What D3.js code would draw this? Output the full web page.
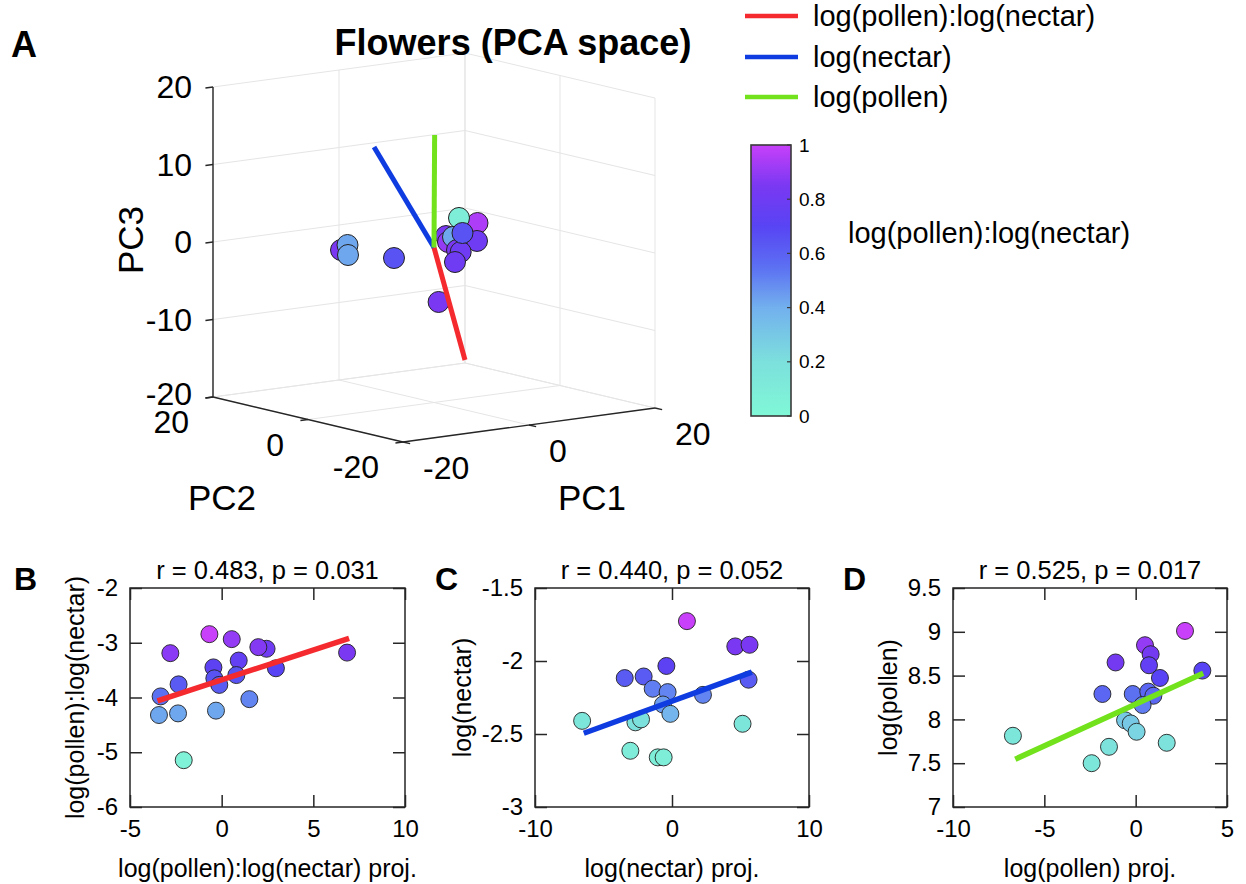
<!DOCTYPE html>
<html><head><meta charset="utf-8">
<script src="https://cdn.jsdelivr.net/npm/d3@7"></script>
<style>
body{margin:0;background:#fff}
text{font-family:"Liberation Sans",Arial,Helvetica,sans-serif;fill:#000}
</style>
</head><body><script>
// ---------- DATA ----------
// colormap (value 0..1 -> colour)
const cmapStops  = [0, 0.2, 0.4, 0.55, 0.7, 0.85, 1];
const cmapColors = ["#80f8d6", "#7ce0dc", "#72b0ee", "#5c70f2", "#5844f4", "#7a38f2", "#c840fa"];
const cbarTicks = [0, 0.2, 0.4, 0.6, 0.8, 1];

// Panel A: PCA scores (PC1, PC2, PC3) and colour value, in drawing order
const pcaTicks = [-20, 0, 20];
const pc3Ticks = [-20, -10, 0, 10, 20];
const scoreP1 = [-5.71, -6.19, -6.11, -2.58, -3.04, 6.15, 2.46, 1.9, 5.32, -0.04, 0, 1.39, 1.22, 0, -0.44];
const scoreP2 = [12, 10, 10, 5, -5, -1, -2, 0, -2, -3, -4, -3, -4, -6, -5];
const scoreP3 = [-1.44, -0.45, -1.75, -1.8, -5.97, 2.63, 3.83, 1.27, 0.55, 1.15, 1.94, -0.04, -0.13, 2.74, -1.1];
const scoreC  = [0.85, 0.42, 0.42, 0.65, 0.85, 0.95, 0.08, 0.85, 0.8, 0.9, 0.42, 0.85, 0.8, 0.65, 0.8];
// loading vectors
const loadNames  = ["log(pollen):log(nectar)", "log(nectar)", "log(pollen)"];
const loadColors = ["#f42a2f", "#0f3ce0", "#72e21c"];
const loadP1 = [8.69, -5.75, 0.1];
const loadP2 = [5, 5, 0];
const loadP3 = [-16.2, 12.87, 14.5];

// Panel B
const bX = [-0.67, 0.55, -2.8, 2.45, 2.0, 6.84, 0.93, -0.45, 2.96, -0.4, -0.13, 0.8, -2.35, -3.33, 1.51, -3.42, -2.38, -0.31, -2.07];
const bY = [-2.843, -2.934, -3.19, -3.11, -3.08, -3.18, -3.325, -3.45, -3.466, -3.65, -3.77, -3.59, -3.76, -3.98, -4.03, -4.32, -4.29, -4.24, -5.145];
const bC = [1.0, 0.9, 0.88, 0.8, 0.87, 0.85, 0.75, 0.72, 0.7, 0.65, 0.62, 0.65, 0.62, 0.55, 0.5, 0.42, 0.42, 0.42, 0.05];
const bFitX = [-3.5, 6.95];
const bFitY = [-4.06, -2.92];
// Panel C
const cX = [1.09, 4.62, 5.66, -0.41, -3.45, -2.07, 5.59, -1.41, -0.32, 2.26, -0.66, -0.12, -6.56, -2.67, -2.26, 5.15, -3.04, -1.04, -0.61];
const cY = [-1.727, -1.90, -1.889, -2.034, -2.117, -2.106, -2.128, -2.19, -2.213, -2.232, -2.298, -2.362, -2.41, -2.42, -2.40, -2.43, -2.615, -2.66, -2.66];
const cC = [1.0, 0.85, 0.85, 0.72, 0.62, 0.62, 0.62, 0.52, 0.5, 0.5, 0.45, 0.38, 0.15, 0.2, 0.2, 0.15, 0.1, 0.08, 0.08];
const cFitX = [-6.44, 5.83];
const cFitY = [-2.495, -2.076];
// Panel D
const dX = [2.70, 0.51, 0.82, -1.1, 0.73, 1.33, 3.65, -1.82, -0.16, 0.69, 0.97, 0.38, -0.58, -0.27, 0.05, -6.72, -1.46, 1.7, -2.41];
const dY = [9.01, 8.847, 8.744, 8.65, 8.618, 8.473, 8.557, 8.29, 8.29, 8.317, 8.27, 8.164, 7.99, 7.954, 7.859, 7.813, 7.687, 7.733, 7.5];
const dC = [1.0, 0.9, 0.82, 0.82, 0.75, 0.7, 0.7, 0.58, 0.55, 0.58, 0.58, 0.52, 0.3, 0.3, 0.25, 0.15, 0.18, 0.18, 0.15];
const dFitX = [-6.59, 3.70];
const dFitY = [7.546, 8.526];

const bTitle = "r = 0.483, p = 0.031";
const cTitle = "r = 0.440, p = 0.052";
const dTitle = "r = 0.525, p = 0.017";

// ---------- SETUP ----------
const W = 1246, H = 884;
const svg = d3.select("body").append("svg").attr("width", W).attr("height", H);
const color = d3.scaleLinear().domain(cmapStops).range(cmapColors).interpolate(d3.interpolateRgb).clamp(true);
const AXC = "#262626";

// ---------- PANEL A (3D) ----------
const F = [403, 442], R = [655, 408], L = [213, 397], ZT = [213, 87];
const s1 = d3.scaleLinear().domain([-20, 20]).range([0, 1]);
const s2 = d3.scaleLinear().domain([-20, 20]).range([0, 1]);
const s3 = d3.scaleLinear().domain([-20, 20]).range([0, 1]);
function proj(p1, p2, p3) {
  const t1 = s1(p1), t2 = s2(p2), t3 = s3(p3);
  return [F[0] + t1 * (R[0] - F[0]) + t2 * (L[0] - F[0]) + t3 * (ZT[0] - L[0]),
          F[1] + t1 * (R[1] - F[1]) + t2 * (L[1] - F[1]) + t3 * (ZT[1] - L[1])];
}
const gA = svg.append("g");
function seg(g, a, b, stroke, w) {
  g.append("line").attr("x1", a[0]).attr("y1", a[1]).attr("x2", b[0]).attr("y2", b[1])
    .attr("stroke", stroke).attr("stroke-width", w).attr("stroke-linecap", "butt");
}
const GRID = "#e5e5e5";
// floor grid (PC3=-20)
pcaTicks.forEach(v => {
  seg(gA, proj(v, -20, -20), proj(v, 20, -20), GRID, 1);
  seg(gA, proj(-20, v, -20), proj(20, v, -20), GRID, 1);
});
// back wall PC2=+20
pcaTicks.forEach(v => seg(gA, proj(v, 20, -20), proj(v, 20, 20), GRID, 1));
pc3Ticks.forEach(v => seg(gA, proj(-20, 20, v), proj(20, 20, v), GRID, 1));
// back wall PC1=+20
pcaTicks.forEach(v => seg(gA, proj(20, v, -20), proj(20, v, 20), GRID, 1));
pc3Ticks.forEach(v => seg(gA, proj(20, -20, v), proj(20, 20, v), GRID, 1));
// axes lines
seg(gA, proj(-20, 20, -20), proj(-20, 20, 20), AXC, 1.4);
seg(gA, proj(-20, 20, -20), proj(-20, -20, -20), AXC, 1.4);
seg(gA, proj(-20, -20, -20), proj(20, -20, -20), AXC, 1.4);
// ticks
pc3Ticks.forEach(v => seg(gA, proj(-20, 20, v), proj(-21.2, 20, v), AXC, 1.4));
pcaTicks.forEach(v => seg(gA, proj(-20, v, -20), proj(-21.2, v, -20), AXC, 1.4));
pcaTicks.forEach(v => seg(gA, proj(v, -20, -20), proj(v, -21.5, -20), AXC, 1.4));
// tick labels
const fA = 32;
pc3Ticks.forEach(v => {
  const p = proj(-20, 20, v);
  gA.append("text").attr("x", p[0] - 21).attr("y", p[1] - (v === -20 ? 3 : 0)).attr("text-anchor", "end")
    .attr("dominant-baseline", "central").style("font-size", fA + "px").text(String(v));
});
pcaTicks.forEach(v => {
  const p = proj(-20, v, -20);
  gA.append("text").attr("x", p[0] - 24).attr("y", p[1] + 25).attr("text-anchor", "end")
    .attr("dominant-baseline", "central").style("font-size", fA + "px").text(String(v));
});
pcaTicks.forEach(v => {
  const p = proj(v, -20, -20);
  gA.append("text").attr("x", p[0] + 20).attr("y", p[1] + 26).attr("text-anchor", "start")
    .attr("dominant-baseline", "central").style("font-size", fA + "px").text(String(v));
});
gA.append("text").attr("x", 222).attr("y", 497).attr("text-anchor", "middle")
  .attr("dominant-baseline", "central").style("font-size", "35px").text("PC2");
gA.append("text").attr("x", 592).attr("y", 497).attr("text-anchor", "middle")
  .attr("dominant-baseline", "central").style("font-size", "35px").text("PC1");
gA.append("text").attr("transform", "translate(130,240) rotate(-90)").attr("text-anchor", "middle")
  .attr("dominant-baseline", "central").style("font-size", "35px").text("PC3");
// points
scoreP1.forEach((p1, i) => {
  const p = proj(p1, scoreP2[i], scoreP3[i]);
  gA.append("circle").attr("cx", p[0]).attr("cy", p[1]).attr("r", 10.5)
    .attr("fill", color(scoreC[i])).attr("stroke", "#222").attr("stroke-width", 1);
});
// loading vectors
loadP1.forEach((p1, i) => {
  const o = proj(0, 0, 0), e = proj(p1, loadP2[i], loadP3[i]);
  seg(gA, o, e, loadColors[i], 5);
});
// title, panel letter
svg.append("text").attr("x", 513).attr("y", 55).attr("text-anchor", "middle")
  .style("font-size", "36px").style("font-weight", "bold").text("Flowers (PCA space)");
svg.append("text").attr("x", 11).attr("y", 57).style("font-size", "36px").style("font-weight", "bold").text("A");
// legend
const legY = [16, 57, 97];
loadNames.forEach((n, i) => {
  seg(svg, [745, legY[i]], [798, legY[i]], loadColors[i], 4.5);
  svg.append("text").attr("x", 813).attr("y", legY[i]).attr("dominant-baseline", "central")
    .style("font-size", "29px").text(n);
});
// colorbar
const cbX0 = 751, cbX1 = 791;
const cbY = d3.scaleLinear().domain([0, 1]).range([416, 145]);
const defs = svg.append("defs");
const grad = defs.append("linearGradient").attr("id", "cbg").attr("x1", 0).attr("y1", 1).attr("x2", 0).attr("y2", 0);
d3.range(0, 1.0001, 0.05).forEach(t => grad.append("stop").attr("offset", t).attr("stop-color", color(t)));
svg.append("rect").attr("x", cbX0).attr("y", cbY(1)).attr("width", cbX1 - cbX0).attr("height", cbY(0) - cbY(1))
  .attr("fill", "url(#cbg)").attr("stroke", "#3a3a3a").attr("stroke-width", 1.6);
cbarTicks.forEach(t => {
  seg(svg, [cbX1, cbY(t)], [cbX1 - 4, cbY(t)], "#3a3a3a", 1.2);
  svg.append("text").attr("x", 799).attr("y", cbY(t)).attr("dominant-baseline", "central")
    .style("font-size", "19px").text(String(t));
});
svg.append("text").attr("x", 848).attr("y", 233).attr("dominant-baseline", "central")
  .style("font-size", "29px").text("log(pollen):log(nectar)");

// ---------- PANELS B, C, D ----------
function panel(cfg) {
  const g = svg.append("g");
  const x = d3.scaleLinear().domain(cfg.xd).range([cfg.l, cfg.r]);
  const y = d3.scaleLinear().domain(cfg.yd).range([cfg.b, cfg.t]);
  const fmt = d => String(d);
  const tk = 12;
  const ax = [
    [d3.axisBottom(x).tickValues(cfg.xt).tickFormat(fmt).tickSizeInner(-tk).tickSizeOuter(0).tickPadding(13), `translate(0,${cfg.b})`],
    [d3.axisTop(x).tickValues(cfg.xt).tickFormat("").tickSizeInner(-tk).tickSizeOuter(0), `translate(0,${cfg.t})`],
    [d3.axisLeft(y).tickValues(cfg.yt).tickFormat(fmt).tickSizeInner(-tk).tickSizeOuter(0).tickPadding(12), `translate(${cfg.l},0)`],
    [d3.axisRight(y).tickValues(cfg.yt).tickFormat("").tickSizeInner(-tk).tickSizeOuter(0), `translate(${cfg.r},0)`]
  ];
  ax.forEach(a => {
    const ag = g.append("g").attr("transform", a[1]).call(a[0]);
    ag.select(".domain").remove();
    ag.selectAll("line").attr("stroke", AXC).attr("stroke-width", 1.5);
    ag.selectAll("text").style("font-size", "24px").attr("fill", "#000")
      .style("font-family", '"Liberation Sans",Arial,sans-serif');
  });
  g.append("rect").attr("x", cfg.l).attr("y", cfg.t).attr("width", cfg.r - cfg.l).attr("height", cfg.b - cfg.t)
    .attr("fill", "none").attr("stroke", AXC).attr("stroke-width", 1.5);
  cfg.xs.forEach((v, i) => {
    g.append("circle").attr("cx", x(v)).attr("cy", y(cfg.ys[i])).attr("r", 8.5)
      .attr("fill", color(cfg.cs[i])).attr("stroke", "#222").attr("stroke-width", 0.9);
  });
  g.append("line").attr("x1", x(cfg.fx[0])).attr("y1", y(cfg.fy[0])).attr("x2", x(cfg.fx[1])).attr("y2", y(cfg.fy[1]))
    .attr("stroke", cfg.fc).attr("stroke-width", 5.5);
  const cx = (cfg.l + cfg.r) / 2, cy = (cfg.t + cfg.b) / 2;
  g.append("text").attr("x", cx).attr("y", 579).attr("text-anchor", "middle").style("font-size", "25.5px").text(cfg.title);
  g.append("text").attr("x", cx).attr("y", 868).attr("text-anchor", "middle").attr("dominant-baseline", "central")
    .style("font-size", "25px").text(cfg.xl);
  g.append("text").attr("transform", `translate(${cfg.yx},${cy}) rotate(-90)`).attr("text-anchor", "middle")
    .attr("dominant-baseline", "central").style("font-size", "25px").text(cfg.yl);
  svg.append("text").attr("x", cfg.lx).attr("y", 590).style("font-size", "32px").style("font-weight", "bold").text(cfg.letter);
}
panel({l: 130, r: 405, t: 588, b: 807, xd: [-5, 10], yd: [-6, -2], xt: [-5, 0, 5, 10], yt: [-6, -5, -4, -3, -2],
  xs: bX, ys: bY, cs: bC, fx: bFitX, fy: bFitY, fc: loadColors[0], title: bTitle,
  xl: "log(pollen):log(nectar) proj.", yl: "log(pollen):log(nectar)", yx: 75, letter: "B", lx: 14});
panel({l: 535, r: 809, t: 588, b: 807, xd: [-10, 10], yd: [-3, -1.5], xt: [-10, 0, 10], yt: [-3, -2.5, -2, -1.5],
  xs: cX, ys: cY, cs: cC, fx: cFitX, fy: cFitY, fc: loadColors[1], title: cTitle,
  xl: "log(nectar) proj.", yl: "log(nectar)", yx: 462, letter: "C", lx: 435});
panel({l: 953, r: 1227, t: 588, b: 807, xd: [-10, 5], yd: [7, 9.5], xt: [-10, -5, 0, 5], yt: [7, 7.5, 8, 8.5, 9, 9.5],
  xs: dX, ys: dY, cs: dC, fx: dFitX, fy: dFitY, fc: loadColors[2], title: dTitle,
  xl: "log(pollen) proj.", yl: "log(pollen)", yx: 888, letter: "D", lx: 843});
</script></body></html>
